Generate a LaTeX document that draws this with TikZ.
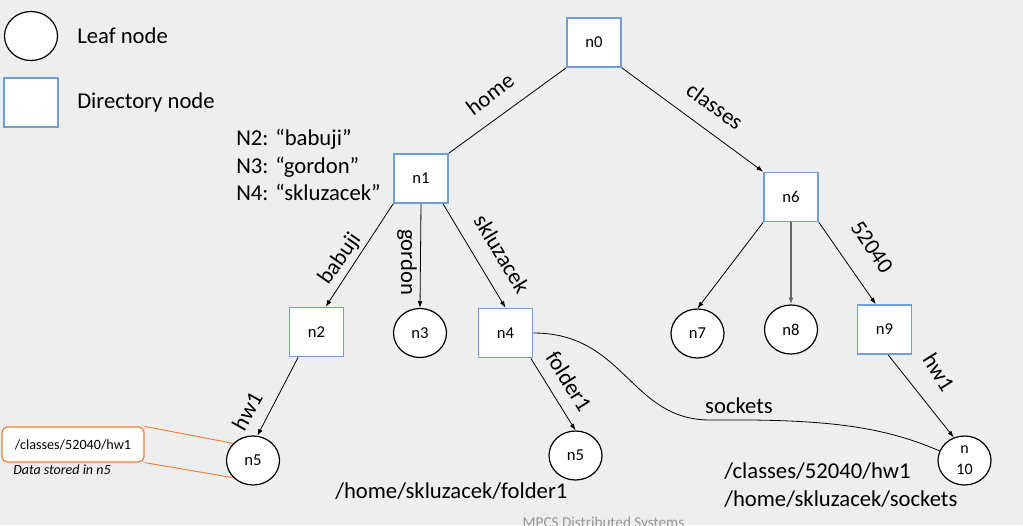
\documentclass[tikz,border=0pt]{standalone}
\usepackage{fontspec}
\setmainfont{Carlito}
\usetikzlibrary{arrows.meta,shapes.geometric}
\definecolor{bg}{RGB}{238,238,238}
\definecolor{dirblue}{RGB}{110,160,215}
\definecolor{orangeline}{RGB}{237,125,49}
\definecolor{footgray}{RGB}{150,150,150}
\definecolor{gline}{RGB}{100,100,100}
\tikzset{
  dirnode/.style={rectangle, draw=dirblue, line width=1.2pt, fill=white,
    minimum width=40.5pt, minimum height=36.75pt, inner sep=0pt,
    font=\fontsize{12.5}{15}\selectfont},
  leafnode/.style={ellipse, draw=black, line width=0.9pt, fill=white,
    minimum width=39.75pt, minimum height=36.75pt, inner sep=0pt,
    font=\fontsize{12.5}{15}\selectfont},
  conn/.style={draw=black, line width=0.6pt},
  arr/.style={conn, -{Latex[length=5pt,width=3.5pt]}},
  lbl/.style={font=\fontsize{17}{20}\selectfont, inner sep=0pt},
  txt/.style={font=\fontsize{17}{20}\selectfont, inner sep=0pt, anchor=base west},
  orangelink/.style={draw=orangeline, line width=0.7pt},
}
\begin{document}
\begin{tikzpicture}[x=0.75pt,y=-0.75pt]
\useasboundingbox (0,0) rectangle (1023,525);
\clip (0,0) rectangle (1023,525);
\fill[bg] (0,0) rectangle (1023,525);

% legend
\node[leafnode] (legleaf) at (31,36) {};
\node[txt] (legleaftxt) at (77,43) {Leaf node};
\node[dirnode] (legdir) at (31,102.5) {};
\node[txt] (legdirtxt) at (77,108) {Directory node};

% names
\node[txt] (nn2) at (236,145) {N2: “babuji”};
\node[txt] (nn3) at (236,173) {N3: “gordon”};
\node[txt] (nn4) at (236,200) {N4: “skluzacek”};

% tree nodes
\node[dirnode] (n0) at (594,42.5) {n0};
\node[dirnode] (n1) at (421,178.5) {n1};
\node[dirnode] (n6) at (791,197) {n6};
\node[dirnode] (n2) at (316.5,332) {n2};
\node[leafnode] (n3) at (420,333) {n3};
\node[dirnode] (n4) at (505.5,333) {n4};
\node[leafnode] (n7) at (697.5,333.5) {n7};
\node[leafnode] (n8) at (791,329.5) {n8};
\node[dirnode] (n9) at (884.5,329.5) {n9};
\node[leafnode] (n5a) at (253,460.5) {n5};
\node[leafnode] (n5b) at (575.5,455.5) {n5};
\node[leafnode, align=center, font=\fontsize{12}{15.75}\selectfont] (n10) at (964.5,460.5) {n\\10};

% connectors
\draw[conn] (n0.south west) -- (n1.north east);
\draw[arr] (n0.south east) -- (n6.north west);
\draw[arr] (n1.south west) -- (n2.70);
\draw[arr] (n1.south) -- (n3.north);
\draw[arr] (n1.-49) -- (n4.north);
\draw[arr] (n2.-126) -- (n5a.80);
\draw[arr] (n4.-45) -- (n5b.north);
\draw[conn] (n4.east) .. controls (625,333) and (630,420) .. (710,420)
   .. controls (820,419) and (880,425) .. (n10.159);
\draw[arr] (n6.south west) -- (n7.north);
\draw[draw=gline, line width=1.4pt, -{Latex[length=5pt,width=3.5pt]}] (n6.south) -- (n8.north);
\draw[arr] (n6.south east) -- (n9.109);
\draw[arr] (n9.-82) -- (n10.115);

% edge labels
\node[lbl, rotate=37] (lhome) at (490,94) {home};
\node[lbl, rotate=-36] (lclasses) at (715,106) {classes};
\node[lbl, rotate=55] (lbabuji) at (340,259) {babuji};
\node[lbl, rotate=-90] (lgordon) at (407,262) {gordon};
\node[lbl, rotate=-59] (lsklu) at (502,254) {skluzacek};
\node[lbl, rotate=61] (lhw1a) at (247,411) {hw1};
\node[lbl, rotate=-58] (lfolder) at (569,381) {folder1};
\node[lbl, rotate=-56] (l52040) at (872,247) {52040};
\node[lbl, rotate=-58] (lhw1b) at (939,372) {hw1};
\node[lbl] (lsockets) at (739,406) {sockets};

% data box
\node[draw=orangeline, line width=0.9pt, fill=white, rounded corners=4pt,
  minimum width=106.5pt, minimum height=26.25pt, inner sep=0pt,
  font=\fontsize{10.6}{12}\selectfont] (data) at (73,444.5) {/classes/52040/hw1};
\node[anchor=base west, inner sep=0pt, font=\fontsize{10.5}{12}\selectfont\itshape] (datacap) at (13,474) {Data stored in n5};
\draw[orangelink] (data.north east) -- (n5a.139);
\draw[orangelink] (data.south east) -- (n5a.-139);

% paths
\node[txt] (p1) at (335,498) {/home/skluzacek/folder1};
\node[txt] (p2) at (724,478) {/classes/52040/hw1};
\node[txt] (p3) at (724,506) {/home/skluzacek/sockets};

% footer
\node[anchor=base, inner sep=0pt, text=footgray, font=\fontsize{11.4}{13}\selectfont] (footer) at (603.5,527) {MPCS Distributed Systems};
\end{tikzpicture}
\end{document}
